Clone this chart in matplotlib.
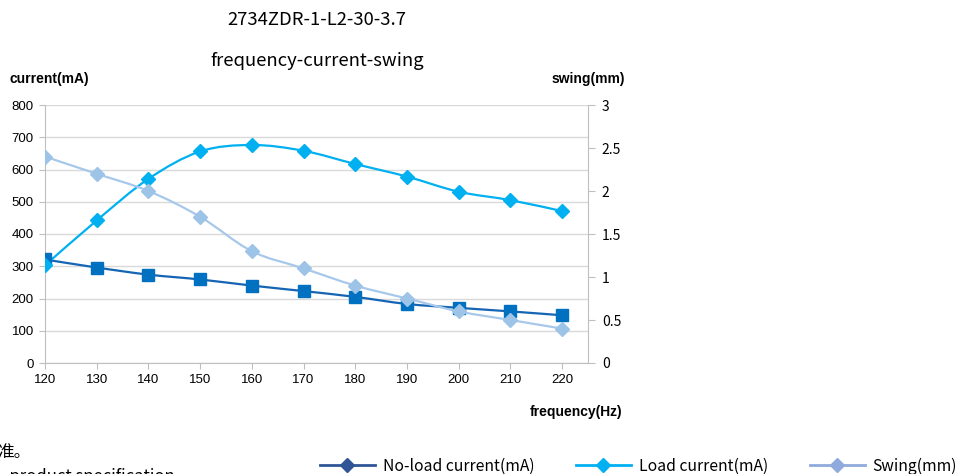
import matplotlib
matplotlib.use("Agg")
import matplotlib.pyplot as plt
from matplotlib.path import Path
from matplotlib.patches import PathPatch
from matplotlib.lines import Line2D

# ---- data ----
freq = [120, 130, 140, 150, 160, 170, 180, 190, 200, 210, 220]
noload_current = [321, 296, 274, 259, 240, 223, 205, 183, 171, 160, 148]
load_current = [303, 442, 571, 656, 676, 658, 617, 578, 531, 505, 471]
swing = [2.4, 2.2, 2.0, 1.7, 1.3, 1.1, 0.9, 0.75, 0.6, 0.5, 0.4]
left_ticks = [0, 100, 200, 300, 400, 500, 600, 700, 800]
right_ticks = [0, 0.5, 1, 1.5, 2, 2.5, 3]
right_labels = ["0", "0.5", "1", "1.5", "2", "2.5", "3"]
x_ticks = [120, 130, 140, 150, 160, 170, 180, 190, 200, 210, 220]
title1 = "2734ZDR-1-L2-30-3.7"
title2 = "frequency-current-swing"
series_names = ["No-load current(mA)", "Load current(mA)", "Swing(mm)"]

W, H = 957, 474
fig = plt.figure(figsize=(W / 100, H / 100), dpi=100)
CJK = ["Noto Sans CJK SC", "DejaVu Sans"]
ARIAL = ["Liberation Sans", "DejaVu Sans"]

def fx(px):
    return px / W

def fy(py):
    return 1 - py / H

ax = fig.add_axes([fx(45), fy(363), fx(588) - fx(45), fy(105) - fy(363)])
ax2 = ax.twinx()


def smooth_path(xs, ys):
    n = len(xs)
    verts = [(xs[0], ys[0])]
    codes = [Path.MOVETO]
    for i in range(n - 1):
        x0, y0 = xs[max(i - 1, 0)], ys[max(i - 1, 0)]
        x1, y1 = xs[i], ys[i]
        x2, y2 = xs[i + 1], ys[i + 1]
        x3, y3 = xs[min(i + 2, n - 1)], ys[min(i + 2, n - 1)]
        c1 = (x1 + (x2 - x0) / 6, y1 + (y2 - y0) / 6)
        c2 = (x2 - (x3 - x1) / 6, y2 - (y3 - y1) / 6)
        verts += [c1, c2, (x2, y2)]
        codes += [Path.CURVE4] * 3
    return Path(verts, codes)


c_noload_line = "#1565B4"
c_noload_mark = "#0070C0"
c_load = "#00B0F0"
c_swing_line = "#A6C8EA"
c_swing_mark = "#9DC3E6"

ax.add_patch(PathPatch(smooth_path(freq, noload_current), fill=False,
                       edgecolor=c_noload_line, lw=1.6, zorder=3))
ax.plot(freq, noload_current, ls="none", marker="s", ms=9,
        color=c_noload_mark, zorder=4)
ax.add_patch(PathPatch(smooth_path(freq, load_current), fill=False,
                       edgecolor=c_load, lw=1.6, zorder=3))
ax.plot(freq, load_current, ls="none", marker="D", ms=7,
        color=c_load, zorder=4)
ax2.add_patch(PathPatch(smooth_path(freq, swing), fill=False,
                        edgecolor=c_swing_line, lw=1.6, zorder=3))
ax2.plot(freq, swing, ls="none", marker="D", ms=7,
         color=c_swing_mark, zorder=4)

ax.set_xlim(120, 225)
ax.set_ylim(0, 800)
ax2.set_ylim(0, 3)
ax.set_xticks(x_ticks)
ax.set_xticklabels([str(v) for v in x_ticks], family=ARIAL, fontsize=9.5)
ax.set_yticks(left_ticks)
ax.set_yticklabels([str(v) for v in left_ticks], family=ARIAL, fontsize=9.5)
ax2.set_yticks(right_ticks)
ax2.set_yticklabels(right_labels, family=CJK, fontsize=10)

ax.yaxis.grid(True, color="#D9D9D9", lw=1)
ax.set_axisbelow(True)
gray = "#BFBFBF"
for a in (ax, ax2):
    a.spines["top"].set_visible(False)
    for s in ("left", "right", "bottom"):
        a.spines[s].set_color(gray)
ax.spines["right"].set_visible(False)
ax2.spines["left"].set_visible(False)
ax2.spines["bottom"].set_visible(False)
ax.tick_params(axis="both", direction="out", length=4, color=gray,
               labelcolor="#000000", pad=4)
ax2.tick_params(axis="y", direction="out", length=5, color=gray,
                labelcolor="#000000", pad=5)

fig.text(fx(317), fy(20), title1, family=CJK, fontsize=13.3,
         ha="center", va="center")
fig.text(fx(317), fy(61), title2, family=CJK, fontsize=13.3,
         ha="center", va="center")
fig.text(fx(10), fy(79), "current(mA)", family=ARIAL, fontsize=10,
         weight="bold", ha="left", va="center")
fig.text(fx(625), fy(79), "swing(mm)", family=ARIAL, fontsize=10,
         weight="bold", ha="right", va="center")
fig.text(fx(622), fy(412), "frequency(Hz)", family=ARIAL, fontsize=10,
         weight="bold", ha="right", va="center")

fig.text(fx(-3), fy(453), "准。", family=CJK, fontsize=12,
         ha="left", va="center")
fig.text(fx(2), fy(468), "  product specification", family=CJK, fontsize=12,
         ha="left", va="top")

handles = [
    Line2D([], [], color="#2F5597", lw=2, marker="D", ms=7),
    Line2D([], [], color=c_load, lw=2, marker="D", ms=7),
    Line2D([], [], color="#8FAADC", lw=2, marker="D", ms=7),
]
leg = fig.legend(handles, series_names, loc="center left",
                 bbox_to_anchor=(fx(320), fy(466)), ncol=3, frameon=False,
                 prop={"family": CJK, "size": 11.3}, handlelength=3.5,
                 handletextpad=0.5, columnspacing=2.65, borderpad=0,
                 borderaxespad=0)

fig.savefig("out.png", dpi=100)
